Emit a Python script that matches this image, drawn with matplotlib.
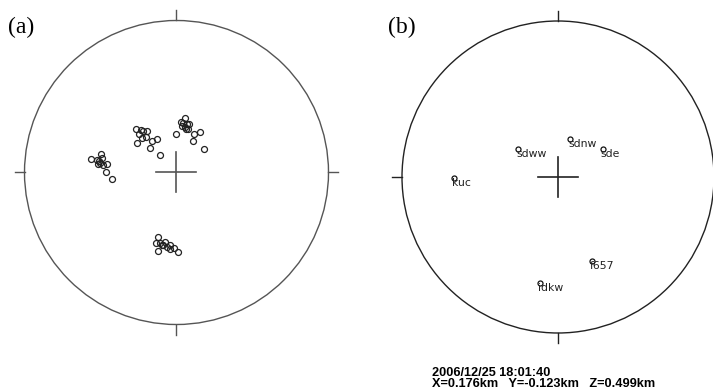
import numpy as np
import matplotlib.pyplot as plt
from matplotlib.patches import Circle

# ---------------------------------------------------------------
# data: positions on the projection, in units of the circle radius
# ---------------------------------------------------------------
# panel (a): four clusters of points
a_x = [-0.264, -0.234, -0.247, -0.218, -0.196, -0.227, -0.199, -0.258, -0.159, -0.130, -0.172, -0.107,
       0.056, 0.028, 0.045, 0.067, 0.080, 0.034, 0.056, 0.078, 0.061, -0.003, 0.115, 0.157, 0.107, 0.181,
       -0.564, -0.499, -0.525, -0.512, -0.492, -0.516, -0.486, -0.459, -0.466, -0.426, -0.503,
       -0.120, -0.135, -0.109, -0.097, -0.076, -0.120, -0.064, -0.043, -0.043, -0.014, 0.008, -0.087]
a_y = [0.286, 0.280, 0.253, 0.273, 0.273, 0.227, 0.232, 0.194, 0.207, 0.222, 0.161, 0.113,
       0.357, 0.332, 0.324, 0.319, 0.319, 0.308, 0.301, 0.288, 0.286, 0.253, 0.253, 0.264, 0.205, 0.153,
       0.091, 0.120, 0.082, 0.076, 0.093, 0.058, 0.049, 0.054, 0.005, -0.043, 0.061,
       -0.422, -0.466, -0.462, -0.479, -0.455, -0.516, -0.488, -0.479, -0.505, -0.495, -0.523, -0.475]

# panel (b): stations
stations = ['sdww', 'sdnw', 'sde', 'kuc', 'f657', 'idkw']
b_x = [-0.254, 0.077, 0.287, -0.667, 0.216, -0.115]
b_y = [0.181, 0.242, 0.181, -0.004, -0.540, -0.681]

info_line1 = '2006/12/25 18:01:40'
info_line2 = 'X=0.176km   Y=-0.123km   Z=0.499km'

# ---------------------------------------------------------------
W, H = 713, 391
fig = plt.figure(figsize=(W / 100, H / 100), dpi=100)
L = 1.3


def make_panel(cx, cy, r, color):
    # axes placed so that the unit circle sits at pixel centre (cx, cy) with radius r
    ax = fig.add_axes([(cx - L * r) / W, (H - cy - L * r) / H, 2 * L * r / W, 2 * L * r / H])
    ax.set_xlim(-L, L)
    ax.set_ylim(-L, L)
    ax.axis('off')
    ax.add_patch(Circle((0, 0), 1, fill=False, ec=color, lw=1.0))
    t = 1 + 10 / r
    for dx, dy in [(1, 0), (-1, 0), (0, 1), (0, -1)]:
        ax.plot([dx, dx * t], [dy, dy * t], color=color, lw=1.0)
    c = 20 / r
    ax.plot([-c, c], [0, 0], color=color, lw=1.2)
    ax.plot([0, 0], [-c, c], color=color, lw=1.2)
    return ax


ax1 = make_panel(176.5, 172.5, 152, '#555555')
ax1.plot(a_x, a_y, 'o', ms=4.3, mfc='none', mec='#222222', mew=0.9)

ax2 = make_panel(558, 177, 156, '#222222')
ax2.plot(b_x, b_y, 'o', ms=3.6, mfc='none', mec='#111111', mew=0.9)
for name, x, y in zip(stations, b_x, b_y):
    ax2.annotate(name, (x, y), xytext=(-1.5, 0.0), textcoords='offset points',
                 ha='left', va='top', fontsize=7.8, color='#222222')

fig.text(8 / W, 1 - 33 / H, '(a)', family='Liberation Serif', fontsize=17, va='baseline')
fig.text(388 / W, 1 - 33 / H, '(b)', family='Liberation Serif', fontsize=17, va='baseline')

fig.text(432 / W, 1 - 375.7 / H, info_line1, family='Liberation Sans', fontweight='bold',
         fontsize=9.2, va='baseline')
fig.text(432 / W, 1 - 387 / H, info_line2, family='Liberation Sans', fontweight='bold',
         fontsize=9.2, va='baseline')

fig.savefig('out.png', dpi=100)
